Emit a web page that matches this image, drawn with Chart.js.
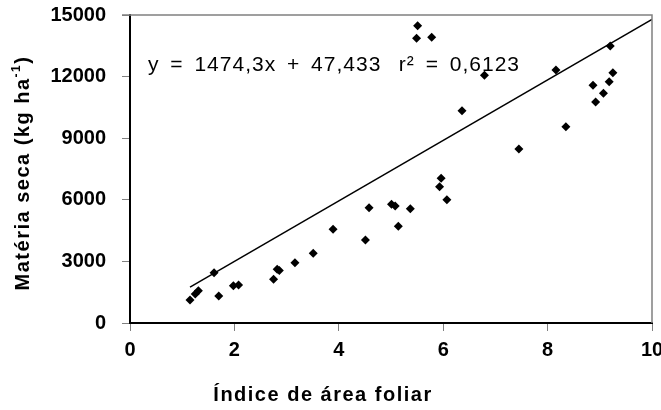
<!DOCTYPE html>
<html lang="pt">
<head>
<meta charset="UTF-8">
<title>Matéria seca x Índice de área foliar</title>
<script src="https://cdn.jsdelivr.net/npm/chart.js"></script>
<style>
  html, body { margin: 0; padding: 0; background: #fff; }
  #wrap { width: 661px; height: 410px; }
</style>
</head>
<body>
<div id="wrap"><canvas id="iafChart" width="661" height="410"></canvas></div>
<script>
// valores
const iaf = [1.15, 1.25, 1.31, 1.61, 1.70, 1.98, 2.08, 2.75, 2.82, 2.86, 3.16, 3.51,
             3.89, 4.51, 4.58, 5.01, 5.08, 5.14, 5.37, 5.96, 5.93, 6.07, 5.51, 5.49,
             5.78, 6.36, 6.79, 7.45, 8.16, 8.35, 8.87, 8.92, 9.07, 9.18, 9.25, 9.20];
const materiaSeca = [1120, 1410, 1570, 2450, 1315, 1815, 1850, 2130, 2620, 2560, 2940, 3395,
                     4560, 4040, 5615, 5780, 5700, 4710, 5570, 7050, 6640, 6005, 14480, 13865,
                     13915, 10340, 12060, 8475, 12320, 9560, 11575, 10760, 11185, 11750, 12190, 13490];
// reta de regressao (extremos)
const trendIaf = [1.15, 10];
const trendMs = [1743, 14790];
const xTickLabels = ['0', '2', '4', '6', '8', '10'];
const yTickLabels = ['0', '3000', '6000', '9000', '12000', '15000'];
const equationText = 'y = 1474,3x + 47,433';
const r2Text = 'r² = 0,6123';

const FONT = "'Liberation Sans', Arial, sans-serif";

// titulos, moldura e equacao
const extras = {
    id: 'extras',
    afterDraw(chart) {
        const ctx = chart.ctx;
        const a = chart.chartArea;
        ctx.save();
        ctx.strokeStyle = '#808080';
        ctx.lineWidth = 1.5;
        ctx.beginPath();
        ctx.moveTo(a.left - 8, a.top);
        ctx.lineTo(a.right, a.top);
        ctx.lineTo(a.right, a.bottom);
        ctx.stroke();

        ctx.fillStyle = '#000';
        ctx.font = '21px ' + FONT;
        ctx.letterSpacing = '1px';
        ctx.wordSpacing = '4px';
        ctx.textBaseline = 'alphabetic';
        ctx.textAlign = 'left';
        ctx.fillText(equationText, 148, 71);
        ctx.textAlign = 'right';
        ctx.fillText(r2Text, 520, 71);
        ctx.wordSpacing = '0px';

        // titulo eixo x
        ctx.font = 'bold 20px ' + FONT;
        ctx.letterSpacing = '1.5px';
        ctx.textAlign = 'center';
        ctx.fillText('Índice de área foliar', 323, 401);

        // titulo eixo y com sobrescrito
        ctx.translate(29, 173);
        ctx.rotate(-Math.PI / 2);
        const main = 'Matéria seca (kg ha';
        const sup = '-1';
        const close = ')';
        ctx.textAlign = 'left';
        ctx.font = 'bold 20px ' + FONT;
        const w1 = ctx.measureText(main).width;
        const w3 = ctx.measureText(close).width;
        ctx.font = 'bold 12px ' + FONT;
        const w2 = ctx.measureText(sup).width;
        let x = -(w1 + w2 + w3) / 2;
        ctx.font = 'bold 20px ' + FONT;
        ctx.fillText(main, x, 0);
        x += w1;
        ctx.font = 'bold 12px ' + FONT;
        ctx.fillText(sup, x, -9);
        x += w2;
        ctx.font = 'bold 20px ' + FONT;
        ctx.fillText(close, x, 0);
        ctx.restore();
    }
};

const ctx = document.getElementById('iafChart').getContext('2d');
const iafChart = new Chart(ctx, {
    type: 'scatter',
    data: {
        datasets: [{
            label: 'Matéria seca',
            data: iaf.map((v, i) => ({ x: v, y: materiaSeca[i] })),
            pointStyle: 'rectRot',
            pointRadius: 4.5,
            backgroundColor: '#000',
            borderColor: '#000',
            borderWidth: 0
        }, {
            label: 'Regressão',
            type: 'line',
            data: trendIaf.map((v, i) => ({ x: v, y: trendMs[i] })),
            borderColor: '#000',
            borderWidth: 1.5,
            pointRadius: 0,
            fill: false
        }]
    },
    options: {
        responsive: false,
        animation: false,
        layout: { padding: { left: 0, top: 15, right: 9, bottom: 0 } },
        plugins: {
            legend: { display: false },
            tooltip: { enabled: false }
        },
        scales: {
            x: {
                type: 'linear',
                min: 0,
                max: 10,
                afterFit: s => { s.height = 87; s.paddingLeft = 0; s.paddingRight = 0; },
                ticks: {
                    stepSize: 2,
                    color: '#000',
                    padding: 7,
                    maxRotation: 0,
                    font: { family: FONT, size: 20, weight: 'bold' },
                    callback: (v, i) => xTickLabels[i]
                },
                grid: { drawOnChartArea: false, tickLength: 8, color: '#808080' },
                border: { color: '#000', width: 2 }
            },
            y: {
                min: 0,
                max: 15000,
                afterFit: s => { s.width = 130; s.paddingTop = 0; s.paddingBottom = 0; },
                ticks: {
                    stepSize: 3000,
                    color: '#000',
                    padding: 16,
                    font: { family: FONT, size: 20, weight: 'bold' },
                    callback: (v, i) => yTickLabels[i]
                },
                grid: { drawOnChartArea: false, tickLength: 8, color: '#808080' },
                border: { color: '#000', width: 2 }
            }
        }
    },
    plugins: [extras]
});
</script>
</body>
</html>
